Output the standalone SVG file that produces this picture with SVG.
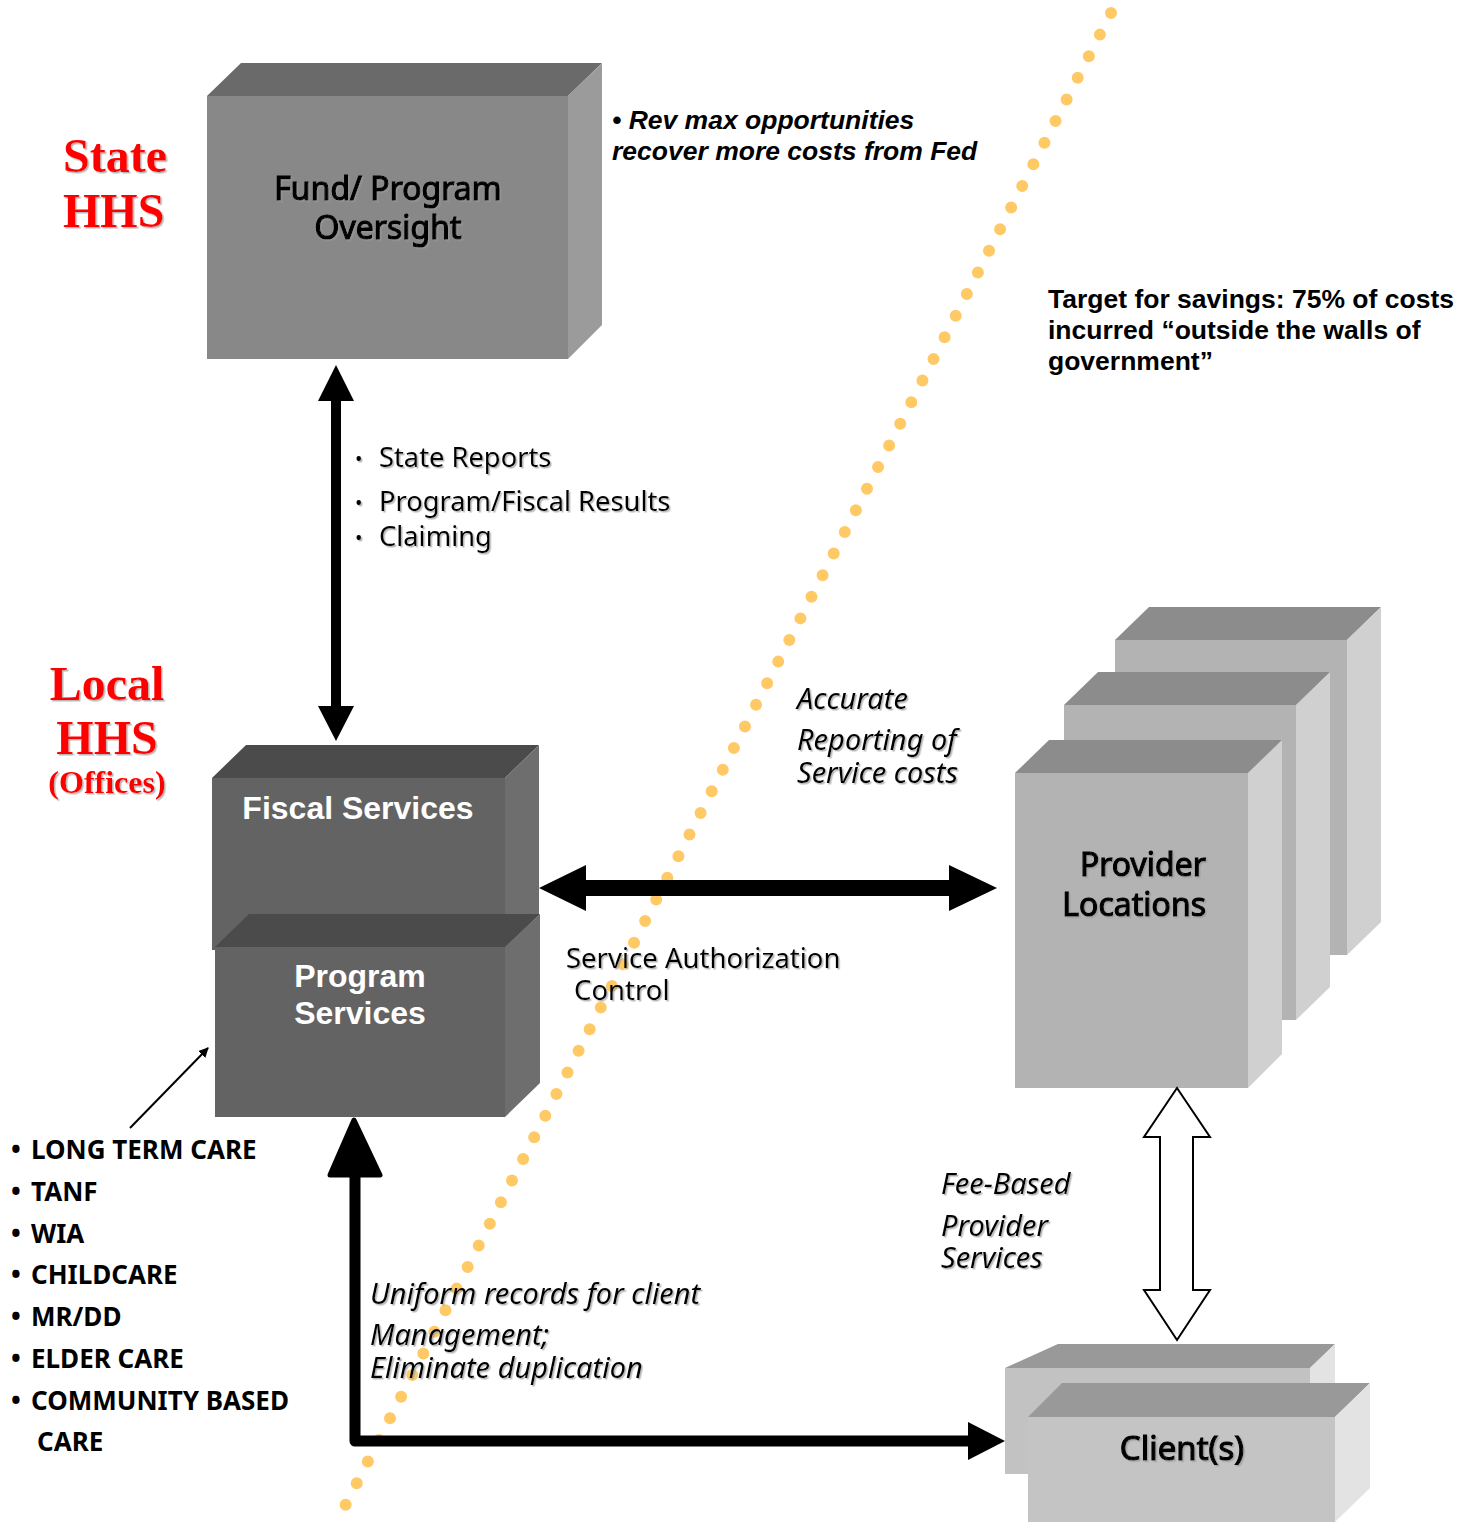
<svg xmlns="http://www.w3.org/2000/svg" width="1473" height="1522" viewBox="0 0 1473 1522">
<defs>
<filter id="sh" x="-10%" y="-10%" width="130%" height="140%">
<feDropShadow dx="1.5" dy="1.5" stdDeviation="0.6" flood-color="#999" flood-opacity="0.7"/>
</filter>
<marker id="thin" viewBox="0 0 10 10" refX="9" refY="5" markerWidth="10" markerHeight="10" markerUnits="userSpaceOnUse" orient="auto">
<path d="M0,0 L10,5 L0,10 Z" fill="#000"/>
</marker>
</defs>
<style>
.lbl{font-family:"Noto Sans","DejaVu Sans",sans-serif;fill:#000}
.box{font-family:"Noto Sans","DejaVu Sans",sans-serif;fill:#000;stroke:#000;stroke-width:1.2px}
.it{font-family:"Noto Sans","DejaVu Sans",sans-serif;font-style:italic;fill:#000;font-size:29px}
.ar{font-family:"Liberation Sans",Arial,sans-serif;font-weight:bold;fill:#000}
.red{font-family:"Liberation Serif","Times New Roman",serif;font-weight:bold;fill:#ff0000}
.wh{font-family:"Liberation Sans",Arial,sans-serif;font-weight:bold;fill:#fff}
.bl{font-family:"Noto Sans","DejaVu Sans",sans-serif;font-weight:bold;fill:#000;font-size:26px}
</style>
<rect width="1473" height="1522" fill="#fff"/>

<!-- dotted boundary line -->
<line x1="1111" y1="13" x2="343" y2="1510" stroke="#ffc966" stroke-width="12" stroke-linecap="round" stroke-dasharray="0 24.3"/>

<!-- State HHS -->
<g id="state-label" filter="url(#sh)">
<text class="red" x="63" y="172" font-size="48">State</text>
<text class="red" x="63" y="227" font-size="48">HHS</text>
</g>

<!-- Fund / Program Oversight box -->
<g id="node-oversight">
<polygon points="207,96 241,63 602,63 568,96" fill="#6a6a6a"/>
<polygon points="568,96 602,63 602,325 568,359" fill="#9b9b9b"/>
<rect x="207" y="96" width="361" height="263" fill="#888"/>
<g filter="url(#sh)">
<text class="box" x="388" y="200" font-size="32" text-anchor="middle">Fund/ Program</text>
<text class="box" x="388" y="239" font-size="32" text-anchor="middle">Oversight</text>
</g>
</g>

<text class="ar" font-style="italic" font-size="26.5" x="612" y="129">• Rev max opportunities</text>
<text class="ar" font-style="italic" font-size="26.5" x="612" y="160">recover more costs from Fed</text>

<g id="target-note">
<text class="ar" font-size="26.5" x="1048" y="308">Target for savings: 75% of costs</text>
<text class="ar" font-size="26.5" x="1048" y="339">incurred “outside the walls of</text>
<text class="ar" font-size="26.5" x="1048" y="370">government”</text>
</g>

<g id="state-reports" filter="url(#sh)">
<text class="lbl" x="355" y="466" font-size="20">•</text>
<text class="lbl" x="379" y="467" font-size="27.3">State Reports</text>
<text class="lbl" x="355" y="510" font-size="20">•</text>
<text class="lbl" x="379" y="511" font-size="27.3">Program/Fiscal Results</text>
<text class="lbl" x="355" y="545" font-size="20">•</text>
<text class="lbl" x="379" y="546" font-size="27.3">Claiming</text>
</g>

<!-- Local HHS -->
<g id="local-label" filter="url(#sh)">
<text class="red" x="107" y="700" font-size="48" text-anchor="middle">Local</text>
<text class="red" x="107" y="754" font-size="48" text-anchor="middle">HHS</text>
<text class="red" x="107" y="793" font-size="32" text-anchor="middle">(Offices)</text>
</g>

<!-- Fiscal Services -->
<g id="node-fiscal">
<polygon points="212,778 246,745 539,745 505,778" fill="#4b4b4b"/>
<polygon points="505,778 539,745 539,915 505,948" fill="#6e6e6e"/>
<rect x="212" y="778" width="293" height="172" fill="#636363"/>
<text class="wh" x="358" y="819" font-size="32" text-anchor="middle">Fiscal Services</text>
</g>

<!-- Program Services -->
<g id="node-program">
<polygon points="215,947 249,914 540,914 505,947" fill="#4b4b4b"/>
<polygon points="505,947 540,914 540,1083 505,1117" fill="#6e6e6e"/>
<rect x="215" y="947" width="290" height="170" fill="#636363"/>
<text class="wh" x="360" y="987" font-size="32" text-anchor="middle">Program</text>
<text class="wh" x="360" y="1024" font-size="32" text-anchor="middle">Services</text>
</g>

<!-- Provider Locations -->
<g id="node-provider-3">
<polygon points="1115,640 1149,607 1381,607 1347,640" fill="#8c8c8c"/>
<polygon points="1347,640 1381,607 1381,922 1347,955" fill="#d0d0d0"/>
<rect x="1115" y="640" width="232" height="315" fill="#b3b3b3"/>
</g>
<g id="node-provider-2">
<polygon points="1064,705 1098,672 1330,672 1296,705" fill="#8c8c8c"/>
<polygon points="1296,705 1330,672 1330,987 1296,1020" fill="#d0d0d0"/>
<rect x="1064" y="705" width="232" height="315" fill="#b3b3b3"/>
</g>
<g id="node-provider">
<polygon points="1015,773 1049,740 1282,740 1248,773" fill="#8c8c8c"/>
<polygon points="1248,773 1282,740 1282,1054 1248,1088" fill="#d0d0d0"/>
<rect x="1015" y="773" width="233" height="315" fill="#b3b3b3"/>
<g filter="url(#sh)">
<text class="box" x="1206" y="876" font-size="32" text-anchor="end">Provider</text>
<text class="box" x="1206" y="916" font-size="32" text-anchor="end">Locations</text>
</g>
</g>

<!-- Clients -->
<g id="node-client-2">
<polygon points="1005,1368 1058,1344 1335,1344 1310,1368" fill="#999"/>
<polygon points="1310,1368 1335,1344 1335,1450 1310,1474" fill="#e3e3e3"/>
<rect x="1005" y="1368" width="305" height="106" fill="#c2c2c2"/>
</g>
<g id="node-client">
<polygon points="1028,1417 1062,1383 1370,1383 1335,1417" fill="#999"/>
<polygon points="1335,1417 1370,1383 1370,1488 1335,1522" fill="#e3e3e3"/>
<rect x="1028" y="1417" width="307" height="105" fill="#c4c4c4"/>
<text class="box" x="1182" y="1460" font-size="33" text-anchor="middle" filter="url(#sh)">Client(s)</text>
</g>

<!-- connectors -->
<g id="connectors">
<path d="M336,365 L354,401 L341,401 L341,706 L354,706 L336,741 L318,706 L331,706 L331,401 L318,401 Z" fill="#000"/>
<path d="M539,888 L586,865 L586,880 L949,880 L949,865 L997,888 L949,911 L949,896 L586,896 L586,911 Z" fill="#000"/>
<path d="M1177,1088 L1210,1137 L1193,1137 L1193,1290 L1210,1290 L1177,1340 L1144,1290 L1160,1290 L1160,1137 L1144,1137 Z" fill="#fff" stroke="#000" stroke-width="2"/>
<polyline points="355,1170 355,1441 972,1441" fill="none" stroke="#000" stroke-width="11" stroke-linejoin="round"/>
<polygon points="354,1120 380,1175 330,1175" fill="#000" stroke="#000" stroke-width="5" stroke-linejoin="round"/>
<polygon points="1005,1441 968,1422 968,1460" fill="#000"/>
<line x1="130" y1="1128" x2="208" y2="1048" stroke="#000" stroke-width="2" marker-end="url(#thin)"/>
</g>

<!-- connector labels -->
<g filter="url(#sh)">
<text class="lbl" x="566" y="968" font-size="27.5">Service Authorization</text>
<text class="lbl" x="574" y="1000" font-size="27.5">Control</text>
<text class="it" x="797" y="709">Accurate</text>
<text class="it" x="797" y="750">Reporting of</text>
<text class="it" x="797" y="783">Service costs</text>
<text class="it" x="941" y="1194">Fee-Based</text>
<text class="it" x="941" y="1236">Provider</text>
<text class="it" x="941" y="1268">Services</text>
<text class="it" x="370" y="1304">Uniform records for client</text>
<text class="it" x="370" y="1345">Management;</text>
<text class="it" x="370" y="1378">Eliminate duplication</text>
</g>

<!-- program list -->
<g id="program-list">
<text class="bl" x="11" y="1159">•</text><text class="bl" x="31" y="1159">LONG TERM CARE</text>
<text class="bl" x="11" y="1201">•</text><text class="bl" x="31" y="1201">TANF</text>
<text class="bl" x="11" y="1243">•</text><text class="bl" x="31" y="1243">WIA</text>
<text class="bl" x="11" y="1284">•</text><text class="bl" x="31" y="1284">CHILDCARE</text>
<text class="bl" x="11" y="1326">•</text><text class="bl" x="31" y="1326">MR/DD</text>
<text class="bl" x="11" y="1368">•</text><text class="bl" x="31" y="1368">ELDER CARE</text>
<text class="bl" x="11" y="1410">•</text><text class="bl" x="31" y="1410">COMMUNITY BASED</text>
<text class="bl" x="37" y="1451">CARE</text>
</g>
</svg>
